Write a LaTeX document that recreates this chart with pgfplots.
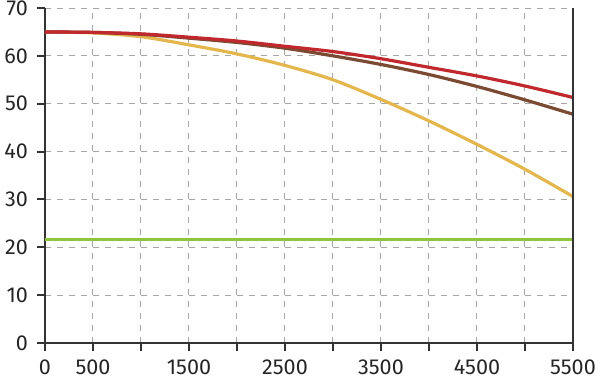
\documentclass[border=0pt]{standalone}
\usepackage{fontspec}
\setmainfont{Fira Sans}
\usepackage{pgfplots}
\pgfplotsset{compat=1.18}
\definecolor{cred}{HTML}{C0282D}
\definecolor{cbrown}{HTML}{7B4A32}
\definecolor{cyellow}{HTML}{E3B74E}
\definecolor{cgreen}{HTML}{8DC63F}
\definecolor{caxis}{HTML}{333333}
\begin{document}
\begin{tikzpicture}
\begin{axis}[
  scale only axis,
  width=264pt, height=167.5pt,
  xmin=0, xmax=5500, ymin=0, ymax=70,
  axis x line*=bottom, axis y line*=left,
  axis line style={caxis, line width=1pt, -},
  xtick={0,500,...,5500},
  xticklabels={0,500,{},1500,{},2500,{},3500,{},4500,{},5500},
  ytick={0,10,...,70},
  tick align=outside,
  major tick length=4pt,
  tick style={caxis, line width=1pt},
  grid=major,
  grid style={gray!70, dashed, line width=0.5pt},
  /pgf/number format/assume math mode=true,
  ticklabel style={font=\fontsize{10.8}{13}\selectfont, text=black!85},
  xticklabel style={yshift=-1pt},
  yticklabel style={xshift=-1pt},
  scaled x ticks=false,
  /pgf/number format/1000 sep={},
  clip=false,
]
\addplot[cgreen, line width=1.6pt] coordinates {(0,21.7) (5500,21.7)};
\addplot[cyellow, line width=1.6pt, smooth] coordinates {
(0,65.0) (500,64.8) (1000,64.0) (1500,62.3) (2000,60.4) (2500,58.0) (3000,55.0) (3500,50.9) (4000,46.4) (4500,41.5) (5000,36.3) (5500,30.6)};
\addplot[cbrown, line width=1.6pt, smooth] coordinates {
(0,65.0) (500,64.9) (1000,64.5) (1500,63.7) (2000,62.8) (2500,61.6) (3000,60.0) (3500,58.2) (4000,56.1) (4500,53.6) (5000,50.8) (5500,47.8)};
\addplot[cred, line width=1.6pt, smooth] coordinates {
(0,65.0) (500,64.9) (1000,64.6) (1500,63.9) (2000,63.1) (2500,62.0) (3000,60.9) (3500,59.4) (4000,57.6) (4500,55.8) (5000,53.7) (5500,51.3)};
\draw[caxis, line width=1pt] (rel axis cs:1,0) -- (rel axis cs:1,1);
\end{axis}
\pgfresetboundingbox
\path ([xshift=-22.5pt,yshift=-19.5pt]current axis.south west) rectangle ([xshift=13.5pt,yshift=4pt]current axis.north east);
\end{tikzpicture}
\end{document}
